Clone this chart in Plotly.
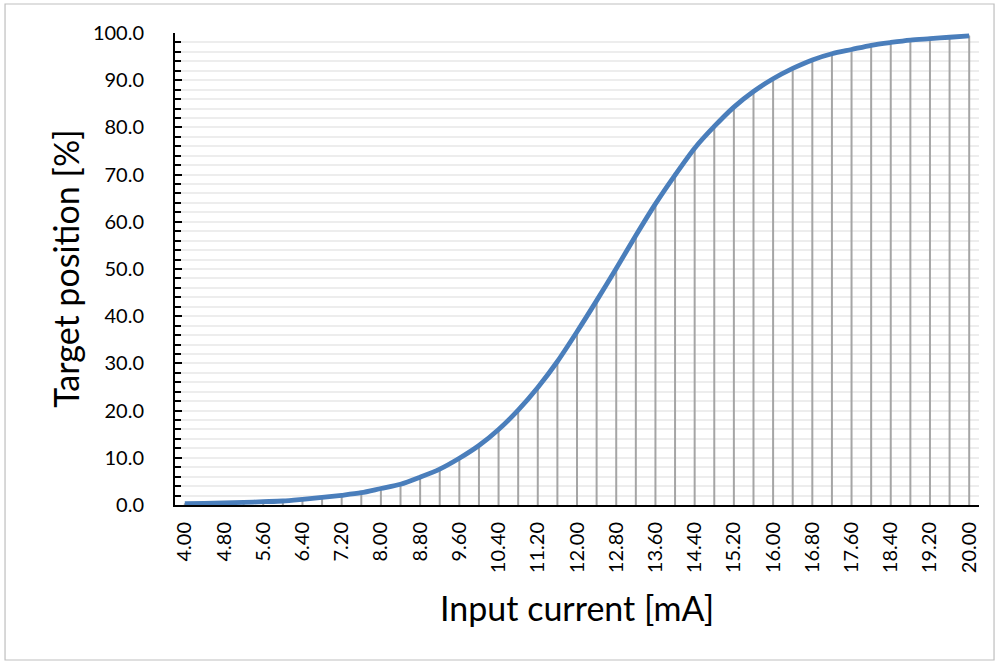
import plotly.graph_objects as go

# Input current [mA], one point every 0.40 mA
current_labels = [f"{4.0 + 0.4 * i:.2f}" for i in range(41)]
tick_labels = current_labels[::2]

# Target position [%]
position = [
    0.3, 0.35, 0.45, 0.55, 0.7, 0.85, 1.2, 1.6, 2.05, 2.6,
    3.5, 4.4, 5.9, 7.6, 9.9, 12.6, 16.0, 20.1, 24.9, 30.4,
    36.7, 43.3, 50.1, 57.1, 63.8, 69.9, 75.6, 80.2, 84.3, 87.6,
    90.3, 92.5, 94.3, 95.6, 96.5, 97.4, 98.0, 98.5, 98.8, 99.1,
    99.4,
]

FONT = "Lato, 'Open Sans', sans-serif"
LINE_BLUE = "#4A7EBB"
DROP_GREY = "#A5A5A5"
GRID = "#EDEDED"

fig = go.Figure()

# drop lines from each point to the axis
fig.add_trace(
    go.Scatter(
        x=current_labels,
        y=position,
        mode="markers",
        marker={"size": 1, "color": DROP_GREY},
        error_y={
            "type": "data",
            "symmetric": False,
            "array": [0] * len(position),
            "arrayminus": position,
            "color": DROP_GREY,
            "thickness": 2,
            "width": 0,
        },
        hoverinfo="skip",
        showlegend=False,
    )
)
fig.add_trace(
    go.Scatter(
        x=current_labels,
        y=position,
        mode="lines",
        line={"color": LINE_BLUE, "width": 4.8, "shape": "spline", "smoothing": 0.8},
        name="Target position",
        showlegend=False,
    )
)

fig.update_layout(
    width=1000,
    height=662,
    margin={"l": 175, "r": 21, "t": 33, "b": 157},
    paper_bgcolor="white",
    plot_bgcolor="white",
    font={"family": FONT, "color": "#000000", "size": 20},
    showlegend=False,
)
fig.update_xaxes(
    type="category",
    range=[-0.5, 40.5],
    tickmode="array",
    tickvals=tick_labels,
    ticktext=tick_labels,
    tickangle=-90,
    tickfont={"size": 20},
    ticks="",
    showgrid=False,
    showline=True,
    linecolor="#000000",
    linewidth=2,
    zeroline=False,
    ticklabelstandoff=7,
)
fig.update_yaxes(
    range=[0, 100],
    dtick=10,
    tickformat=".1f",
    tickfont={"size": 20},
    ticks="inside",
    ticklen=7,
    tickwidth=2,
    tickcolor="#000000",
    showgrid=True,
    gridcolor=GRID,
    gridwidth=1.5,
    minor={"dtick": 2, "ticks": "inside", "ticklen": 6, "tickwidth": 2, "tickcolor": "#000000",
           "showgrid": True, "gridcolor": GRID, "gridwidth": 1.5},
    showline=True,
    linecolor="#000000",
    linewidth=2,
    zeroline=False,
    ticklabelstandoff=25,
)

# axis titles
fig.add_annotation(
    text="Target position [%]", xref="paper", yref="paper", x=-0.137, y=0.5,
    textangle=-90, showarrow=False, font={"size": 34, "family": FONT},
    xanchor="center", yanchor="middle",
)
fig.add_annotation(
    text="Input current [mA]", xref="paper", yref="paper", x=0.5, y=-0.218,
    showarrow=False, font={"size": 34, "family": FONT},
    xanchor="center", yanchor="middle",
)

# chart frame
fig.add_shape(
    type="rect", xref="paper", yref="paper",
    x0=-0.2114, x1=1.0187, y0=-0.3284, y1=1.0614,
    line={"color": "#BFBFBF", "width": 1.2}, fillcolor="rgba(0,0,0,0)", layer="below",
)

# page body has a default 8px margin; drop it so the figure sits at the window origin
fig.write_html(
    "out.html",
    config={"displayModeBar": False},
    post_script="document.body.style.margin = '0';",
)
